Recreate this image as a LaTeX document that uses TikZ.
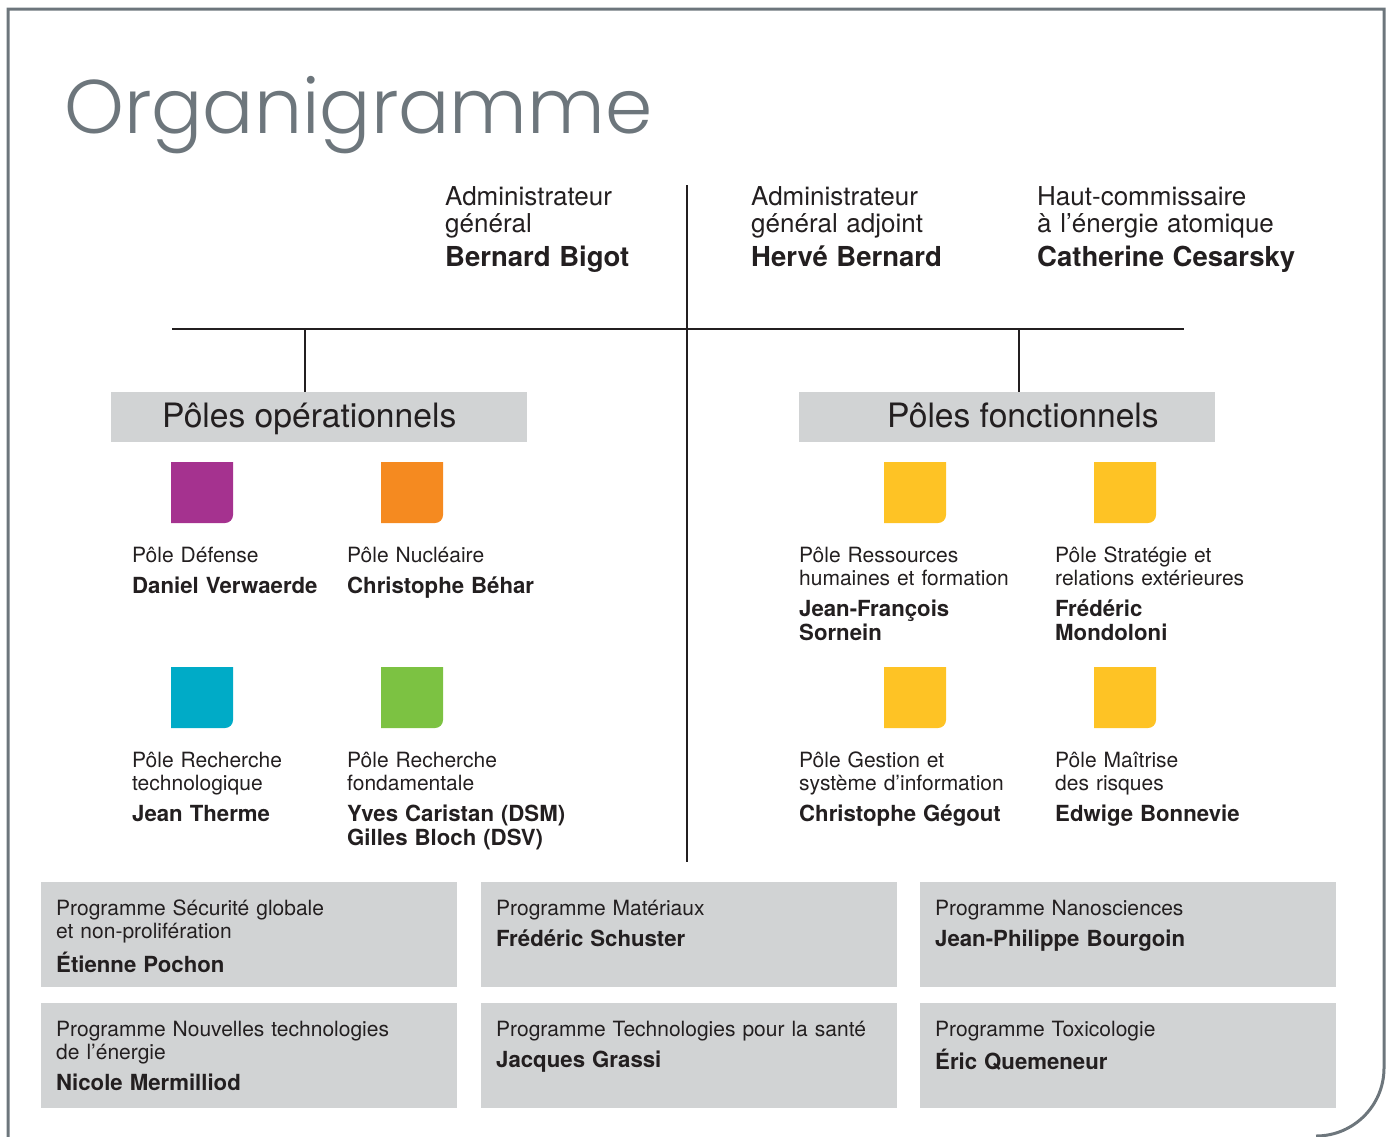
\documentclass[tikz,border=0pt]{standalone}
\usepackage{fontspec}
\setmainfont{TeX Gyre Heros}
\newfontfamily\titlefont{Poppins Light}
\usetikzlibrary{positioning}
\definecolor{ink}{HTML}{231F20}
\definecolor{framegray}{HTML}{6D767C}
\definecolor{boxgray}{HTML}{D1D3D4}
\definecolor{defense}{HTML}{A5328F}
\definecolor{nucleaire}{HTML}{F58A20}
\definecolor{techno}{HTML}{00ABC7}
\definecolor{fonda}{HTML}{7CC242}
\definecolor{fonction}{HTML}{FEC325}
\def\HeadName{\fontsize{27.5}{27}\selectfont\bfseries}
\def\PoleName{\fontsize{22.2}{23.5}\selectfont\bfseries}
\tikzset{
  frame line/.style={draw=framegray, line width=3pt},
  chart line/.style={draw=ink, line width=2.5pt},
  head text/.style={anchor=base west, inner sep=0pt, text width=340pt, align=left,
    font=\fontsize{26}{27}\selectfont, text=ink},
  pole text/.style={anchor=base west, inner sep=0pt, text width=400pt, align=left,
    font=\fontsize{21}{23.5}\selectfont, text=ink},
  pole box/.style={fill=boxgray, anchor=north west, inner sep=0pt,
    minimum width=416pt, minimum height=50pt},
  pole title/.style={anchor=base west, inner sep=0pt, font=\fontsize{33.6}{36}\selectfont, text=ink},
  prog box/.style={fill=boxgray, anchor=north west, inner sep=0pt,
    minimum width=416pt, minimum height=105pt}
}
\def\Pole#1#2#3#4#5#6{%
  \fill[#2] (#3) -- ++(62,0) -- ++(0,53) arc[start angle=0, end angle=90, radius=8] -- ++(-54,0) -- cycle;
  \node (#1) [pole text] at (#4) {#5\\[7.5pt]{\PoleName #6}};
}
\def\Prog#1#2#3#4#5{%
  \node (#1) [prog box] at (#2,#3) {};
  \node (#1 text) [pole text] at (#2+15,#3+33) {#4\\[7.5pt]{\PoleName #5}};
}
\begin{document}
\begin{tikzpicture}[x=1pt, y=-1pt]
\useasboundingbox (0,0) rectangle (1391,1136);
\draw[frame line] (8,1145) -- (8,9) -- (1384,9) -- (1384,1068) arc[start angle=0, end angle=90, radius=68];
\node (title) [anchor=base west, inner sep=0pt, text=framegray, font=\titlefont\fontsize{76}{76}\selectfont] at (64,133) {Organigramme};

% direction
\node (dg) [head text] at (445,205) {Administrateur\\général\\[7pt]{\HeadName Bernard Bigot}};
\node (dga) [head text] at (751,205) {Administrateur\\général adjoint\\[7pt]{\HeadName Hervé Bernard}};
\node (hc) [head text] at (1037,205) {Haut-commissaire\\à l’énergie atomique\\[7pt]{\HeadName Catherine Cesarsky}};

\coordinate (spineTop) at (687,185);
\coordinate (spineBot) at (687,862);
\coordinate (barL) at (172,329);
\coordinate (barR) at (1184,329);
\coordinate (opJoin) at (305,329);
\coordinate (fnJoin) at (1019,329);

\node (opbox) [pole box] at (111,392) {};
\node (fnbox) [pole box] at (799,392) {};
\node (optitle) [pole title] at (162,427) {Pôles opérationnels};
\node (fntitle) [pole title] at (887,427) {Pôles fonctionnels};

\draw[chart line] (spineTop) -- (spineBot);
\draw[chart line] (barL) -- (barR);
\draw[chart line] (opJoin) -- (opJoin |- opbox.north);
\draw[chart line] (fnJoin) -- (fnJoin |- fnbox.north);

% poles
\Pole{defense}{defense}{171,462}{132,562}{Pôle Défense}{Daniel Verwaerde}
\Pole{nucleaire}{nucleaire}{381,462}{347,562}{Pôle Nucléaire}{Christophe Béhar}
\Pole{techno}{techno}{171,667}{132,767}{Pôle Recherche\\technologique}{Jean Therme}
\Pole{fonda}{fonda}{381,667}{347,767}{Pôle Recherche\\fondamentale}{Yves Caristan (DSM)\\Gilles Bloch (DSV)}
\Pole{rh}{fonction}{884,462}{799,562}{Pôle Ressources\\humaines et formation}{Jean-François\\Sornein}
\Pole{strategie}{fonction}{1094,462}{1055,562}{Pôle Stratégie et\\relations extérieures}{Frédéric\\Mondoloni}
\Pole{gestion}{fonction}{884,667}{799,767}{Pôle Gestion et\\système d’information}{Christophe Gégout}
\Pole{risques}{fonction}{1094,667}{1055,767}{Pôle Maîtrise\\des risques}{Edwige Bonnevie}

% programmes
\Prog{securite}{41}{882}{Programme Sécurité globale\\et non-prolifération}{Étienne Pochon}
\Prog{materiaux}{481}{882}{Programme Matériaux}{Frédéric Schuster}
\Prog{nano}{920}{882}{Programme Nanosciences}{Jean-Philippe Bourgoin}
\Prog{energie}{41}{1003}{Programme Nouvelles technologies\\de l’énergie}{Nicole Mermilliod}
\Prog{sante}{481}{1003}{Programme Technologies pour la santé}{Jacques Grassi}
\Prog{toxico}{920}{1003}{Programme Toxicologie}{Éric Quemeneur}
\end{tikzpicture}
\end{document}
